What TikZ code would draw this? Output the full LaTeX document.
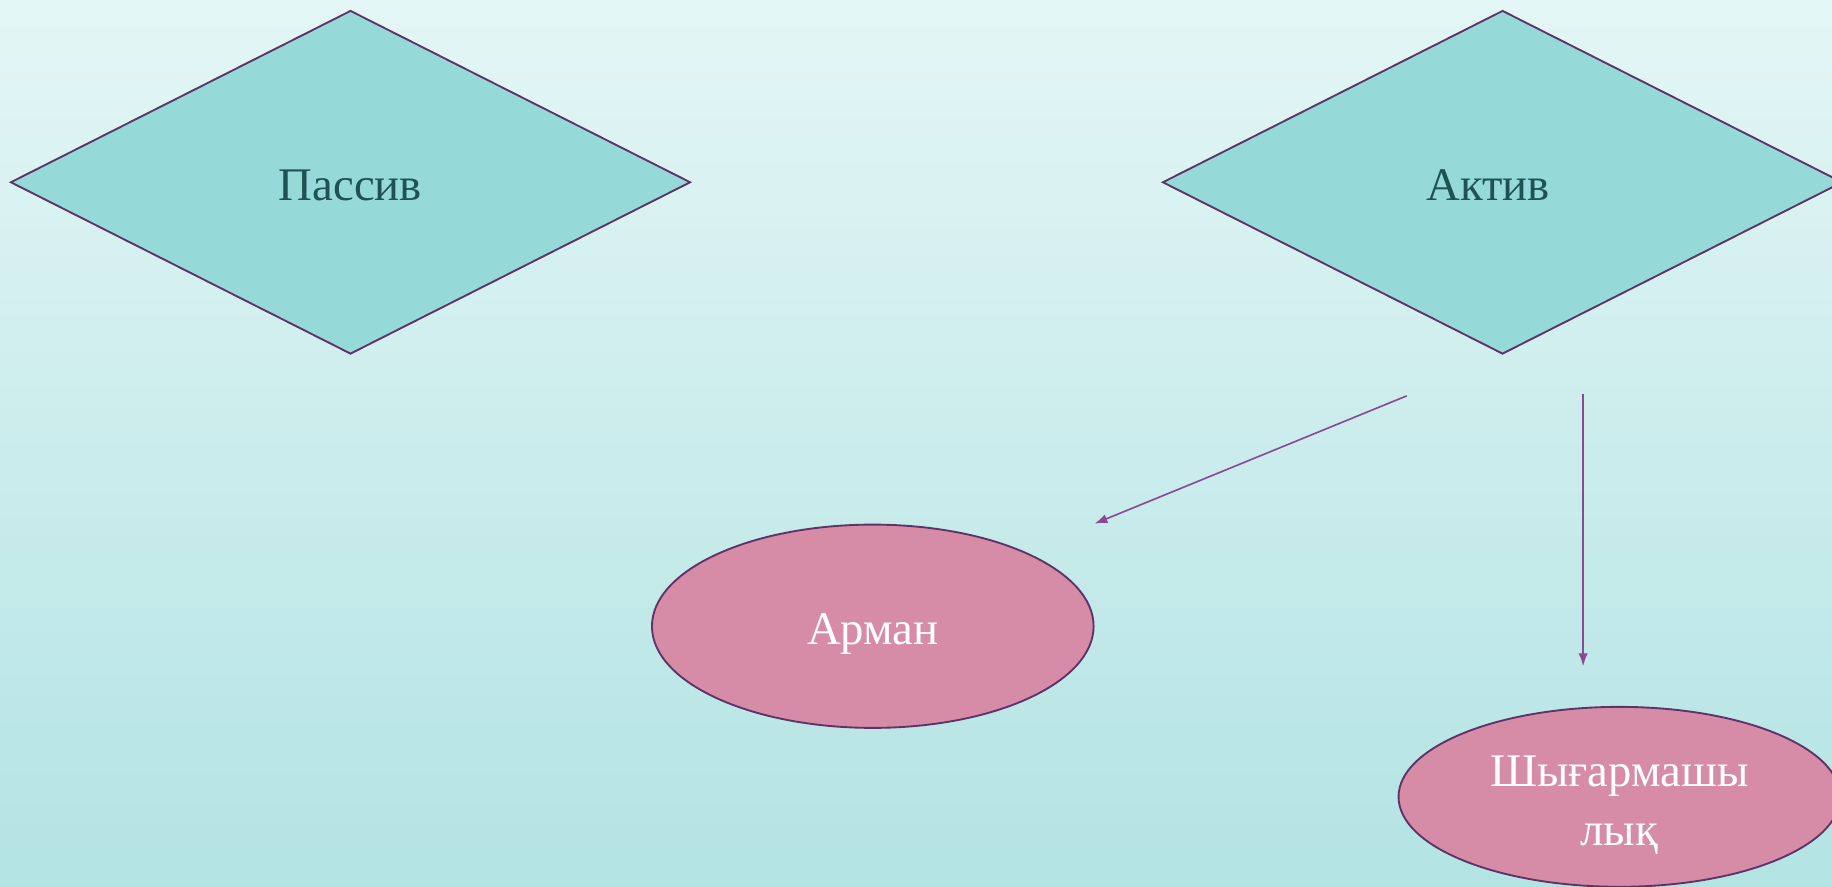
\documentclass[tikz,border=0pt]{standalone}
\usepackage{fontspec}
\setmainfont{Liberation Serif}
\usetikzlibrary{shapes.geometric,arrows.meta,positioning}

\definecolor{bgtop}{HTML}{E4F6F6}
\definecolor{bgbot}{HTML}{B3E3E3}
\definecolor{rhombfill}{HTML}{95D9D8}
\definecolor{edgeline}{HTML}{5E3366}
\definecolor{rhombtext}{HTML}{1F5252}
\definecolor{ovalfill}{HTML}{D68BA6}
\definecolor{arrowline}{HTML}{8A4A93}

\tikzset{
  rhomb/.style={diamond,draw=edgeline,fill=rhombfill,line width=1.6pt,
    minimum width=582pt,minimum height=294pt,inner sep=0pt,
    text=rhombtext,font=\fontsize{40}{50}\selectfont,
    text height=40pt,text depth=9pt},
  oval/.style={ellipse,draw=edgeline,fill=ovalfill,line width=1.6pt,
    minimum width=378pt,minimum height=174pt,inner sep=0pt,
    text=white,align=center,font=\fontsize{40}{50}\selectfont,
    text height=40pt,text depth=9pt},
  link/.style={draw=arrowline,line width=1.4pt,-{Latex[length=11pt,width=8pt]}}
}

\begin{document}
\begin{tikzpicture}[x=1pt,y=-1pt]
\clip (0,0) rectangle (1568,759);
\shade[top color=bgtop,bottom color=bgbot] (0,0) rectangle (1568,759);
\node[rhomb] (passive) at (300,156) {Пассив};
\node[rhomb] (active) at (1286,156) {Актив\hspace*{25pt}};
\node[oval] (dream) at (747,536) {Арман};
\node[oval,minimum height=154pt,text height=92pt] (creative) at (1386,682) {Шығармашы\\лық};
\coordinate (fromleft) at ([xshift=-82pt,yshift=-35pt]active.south);
\coordinate (fromright) at ([xshift=69pt,yshift=-33pt]active.south);
\coordinate (todream) at (dream.east |- dream.north);
\coordinate (tocreative) at ([xshift=-31pt,yshift=34pt]creative.north);
\draw[link] (fromleft) -- (todream);
\draw[link] (fromright) -- (tocreative);
\end{tikzpicture}
\end{document}
